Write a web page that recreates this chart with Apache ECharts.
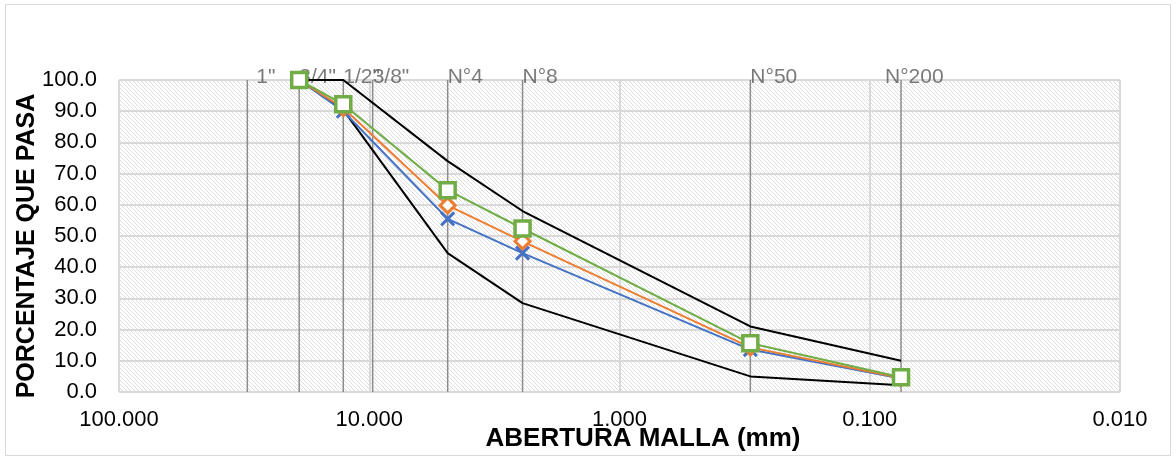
<!DOCTYPE html>
<html>
<head>
<meta charset="utf-8">
<script src="https://cdn.jsdelivr.net/npm/echarts@6/dist/echarts.min.js"></script>
<style>
html,body{margin:0;padding:0;background:#fff;}
#chart{width:1176px;height:457px;}
</style>
</head>
<body>
<div id="chart"></div>
<script>
// ---- data ----
const sieveNames = ['1"', '3/4"', '1/2"', '3/8"', 'N°4', 'N°8', 'N°50', 'N°200'];
const sieveOpenings = [30.7, 19.05, 12.7, 9.69, 4.86, 2.44, 0.3, 0.075];

const curveSieves = ['3/4"', '1/2"', 'N°4', 'N°8', 'N°50', 'N°200'];
const passBlue   = [100, 90.0, 55.5, 44.5, 13.6, 4.3];
const passOrange = [100, 91.0, 59.8, 48.3, 14.3, 4.5];
const passGreen  = [100, 92.2, 64.7, 52.4, 15.6, 4.7];
const upperLimit = [100, 100, 74.0, 58.0, 21.0, 10.0];
const lowerLimit = [100, 90.4, 44.5, 28.5, 5.0, 2.2];

const xTickValues = [100, 10, 1, 0.1, 0.01];
const xAxisTitle = 'ABERTURA MALLA (mm)';
const yAxisTitle = 'PORCENTAJE QUE PASA';

// ---- helpers ----
const FONT = "'Liberation Sans', Arial, sans-serif";
function openingOf(name) { return sieveOpenings[sieveNames.indexOf(name)]; }
function pairs(vals) { return curveSieves.map((s, i) => [openingOf(s), vals[i]]); }

function makeHatch() {
  const c = document.createElement('canvas');
  c.width = 8; c.height = 8;
  const ctx = c.getContext('2d');
  const img = ctx.createImageData(8, 8);
  for (let i = 0; i < 64; i++) { img.data[i*4] = 255; img.data[i*4+1] = 255; img.data[i*4+2] = 255; img.data[i*4+3] = 255; }
  for (let p = 0; p < 8; p++) {
    [p, (p + 4) % 8].forEach(function (x) {
      const k = (p * 8 + x) * 4;
      img.data[k] = 222; img.data[k+1] = 222; img.data[k+2] = 222; img.data[k+3] = 255;
    });
  }
  ctx.putImageData(img, 0, 0);
  return c;
}

const labelNudge = { '1"': 9, 'N°200': -16 };

const chart = echarts.init(document.getElementById('chart'), null, { renderer: 'canvas' });

const sieveLineSeries = sieveOpenings.map(function (v) {
  return {
    type: 'line', data: [[v, 0], [v, 100]], symbol: 'none', silent: true,
    lineStyle: { color: '#8c8c8c', width: 1.5 }, z: 1, animation: false
  };
});

const labelSeries = {
  type: 'scatter', symbolSize: 0, silent: true, z: 1, animation: false,
  data: sieveNames.map(function (n, i) {
    return {
      value: [sieveOpenings[i], 100], name: n,
      label: { offset: [labelNudge[n] || 0, -3] }
    };
  }),
  label: {
    show: true, position: 'right', distance: 0,
    formatter: function (p) { return p.name; },
    color: '#595959', fontFamily: FONT, fontSize: 21
  }
};

function limitSeries(vals) {
  return { type: 'line', data: pairs(vals), symbol: 'none', lineStyle: { color: '#000', width: 2 }, z: 2, animation: false };
}

const xPath = 'path://M0,0L10,10M10,0L0,10';

const option = {
  animation: false,
  backgroundColor: '#fff',
  grid: {
    left: 119, right: 56, top: 80, bottom: 65, show: true,
    backgroundColor: { image: makeHatch(), repeat: 'repeat' },
    borderWidth: 0
  },
  xAxis: {
    type: 'log', logBase: 10, min: 0.01, max: 100, inverse: true,
    axisLine: { show: false }, axisTick: { show: false },
    axisLabel: {
      color: '#000', fontFamily: FONT, fontSize: 22, margin: 17,
      formatter: function (v) { return Number(v).toFixed(3); }
    },
    splitLine: { show: true, lineStyle: { color: '#d9d9d9', width: 2 } },
    minorSplitLine: { show: false }
  },
  yAxis: {
    type: 'value', min: 0, max: 100, interval: 10,
    axisLine: { show: false }, axisTick: { show: false },
    axisLabel: {
      color: '#000', fontFamily: FONT, fontSize: 22, margin: 22,
      formatter: function (v) { return v.toFixed(1); }
    },
    splitLine: { show: true, lineStyle: { color: '#d9d9d9', width: 2 } }
  },
  graphic: [
    { type: 'rect', shape: { x: 5.5, y: 4.5, width: 1165, height: 451 }, style: { fill: 'none', stroke: '#d9d9d9', lineWidth: 1 }, z: -10, silent: true },
    { type: 'text', x: 27, y: 246, rotation: Math.PI / 2, style: { text: yAxisTitle, fill: '#000', font: 'bold 25px ' + FONT, textAlign: 'center', textVerticalAlign: 'middle' } },
    { type: 'text', x: 643, y: 439, style: { text: xAxisTitle, fill: '#000', font: 'bold 26px ' + FONT, textAlign: 'center', textVerticalAlign: 'middle' } }
  ],
  series: sieveLineSeries.concat([
    labelSeries,
    limitSeries(upperLimit),
    limitSeries(lowerLimit),
    {
      type: 'line', data: pairs(passBlue), z: 3, animation: false,
      lineStyle: { color: '#4472C4', width: 2 },
      symbol: xPath, symbolSize: 13,
      itemStyle: { color: 'rgba(0,0,0,0)', borderColor: '#4472C4', borderWidth: 3 }
    },
    {
      type: 'line', data: pairs(passOrange), z: 4, animation: false,
      lineStyle: { color: '#ED7D31', width: 2 },
      symbol: 'diamond', symbolSize: 15,
      itemStyle: { color: '#fff', borderColor: '#ED7D31', borderWidth: 3 }
    },
    {
      type: 'line', data: pairs(passGreen), z: 5, animation: false,
      lineStyle: { color: '#70AD47', width: 2 },
      symbol: 'rect', symbolSize: 15,
      itemStyle: { color: '#fff', borderColor: '#70AD47', borderWidth: 3.5 }
    }
  ])
};
chart.setOption(option);
</script>
</body>
</html>
